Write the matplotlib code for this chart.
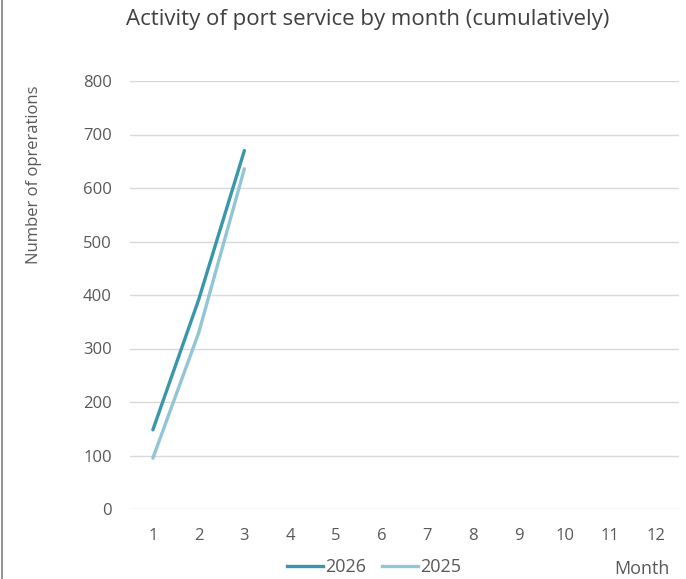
import matplotlib
matplotlib.use("Agg")
import matplotlib.pyplot as plt
from matplotlib.lines import Line2D

months = [1, 2, 3, 4, 5, 6, 7, 8, 9, 10, 11, 12]
month_labels = [str(m) for m in months]
ops_2026 = [148, 391, 670]
ops_2025 = [95, 329, 636]
y_ticks = [0, 100, 200, 300, 400, 500, 600, 700, 800]

plt.rcParams["font.family"] = ["Open Sans", "DejaVu Sans"]
text_color = "#595959"

W, H = 686, 579
fig = plt.figure(figsize=(W / 100, H / 100), dpi=100)
ax = fig.add_axes([130 / W, 1 - 509 / H, (679 - 130) / W, (509 - 81) / H])

ax.plot(months[:len(ops_2026)], ops_2026, color="#3a97ab", lw=2.4,
        solid_capstyle="round", zorder=3)
ax.plot(months[:len(ops_2025)], ops_2025, color="#92c6d7", lw=2.4,
        solid_capstyle="round", zorder=2)

ax.set_xlim(0.5, 12.5)
ax.set_ylim(0, 800)
ax.set_xticks(months)
ax.set_xticklabels(month_labels)
ax.set_yticks(y_ticks)
ax.yaxis.grid(True, color="#d9d9d9", lw=1)
ax.set_axisbelow(True)
for s in ax.spines.values():
    s.set_visible(False)
ax.tick_params(length=0, colors=text_color, labelsize=12)
ax.tick_params(axis="y", pad=13)
ax.tick_params(axis="x", pad=14)

fig.text(368 / W, 1 - 20 / H, "Activity of port service by month (cumulatively)",
         ha="center", va="center", fontsize=16, color="#404040")
fig.text(34 / W, 1 - 175 / H, "Number of oprerations", rotation=90,
         ha="center", va="center", fontsize=12, color=text_color)
fig.text(642 / W, 1 - 569 / H, "Month", ha="center", va="center",
         fontsize=13, color=text_color)

handles = [Line2D([], [], color="#3a97ab", lw=2.4),
           Line2D([], [], color="#92c6d7", lw=2.4)]
fig.legend(handles, ["2026", "2025"], loc="center", bbox_to_anchor=(374 / W, 1 - 567 / H),
           ncol=2, frameon=False, fontsize=13, labelcolor=text_color,
           handlelength=2.0, handletextpad=0.1, columnspacing=0.9)

fig.add_artist(Line2D([1.5 / W, 1.5 / W], [0, 1], color="#808080", lw=1.2,
                      transform=fig.transFigure))

fig.savefig("out.png", dpi=100)
